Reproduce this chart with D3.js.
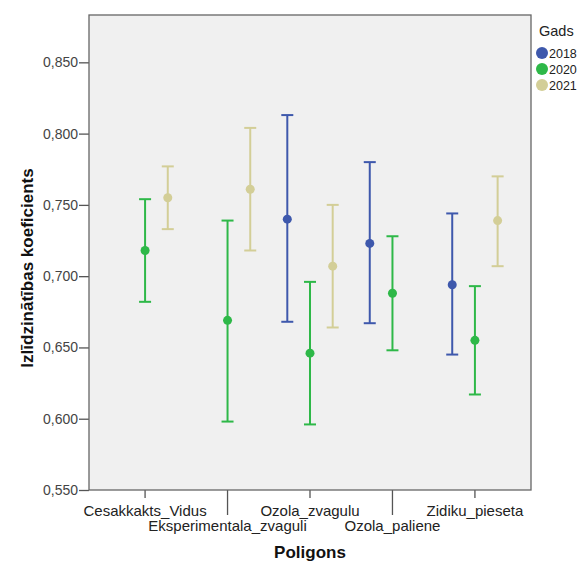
<!DOCTYPE html>
<html><head><meta charset="utf-8">
<script src="https://cdn.jsdelivr.net/npm/d3@7"></script>
<style>body{margin:0;background:#fff}svg{display:block}text{font-family:"Liberation Sans",Arial,sans-serif}</style>
</head><body>
<svg id="c" width="578" height="563"></svg>
<script>
const categories = ["Cesakkakts_Vidus","Eksperimentala_zvaguli","Ozola_zvagulu","Ozola_paliene","Zidiku_pieseta"];
const years = ["2018","2020","2021"];
const colors = ["#3e58ac","#2eb848","#d3ce97"];
// mean, lower, upper per category (null = missing)
const mean2018  = [null, null, 0.740, 0.723, 0.694];
const lower2018 = [null, null, 0.668, 0.667, 0.645];
const upper2018 = [null, null, 0.813, 0.780, 0.744];
const mean2020  = [0.718, 0.669, 0.646, 0.688, 0.655];
const lower2020 = [0.682, 0.598, 0.596, 0.648, 0.617];
const upper2020 = [0.754, 0.739, 0.696, 0.728, 0.693];
const mean2021  = [0.755, 0.761, 0.707, null, 0.739];
const lower2021 = [0.733, 0.718, 0.664, null, 0.707];
const upper2021 = [0.777, 0.804, 0.750, null, 0.770];
const yTicks = [0.55,0.60,0.65,0.70,0.75,0.80,0.85];

const means=[mean2018,mean2020,mean2021], lows=[lower2018,lower2020,lower2021], ups=[upper2018,upper2020,upper2021];
const svg = d3.select("#c");
const L=89,R=531,T=15,B=490;
const x = d3.scaleBand().domain(categories).range([L,R]).paddingInner(0).paddingOuter(0.18);
const y = d3.scaleLinear().domain([0.55,0.8832]).range([B,T]);
const off = d3.scalePoint().domain(years).range([-22.7,22.7]);

svg.append("rect").attr("x",L).attr("y",T).attr("width",R-L).attr("height",B-T).attr("fill","#f0f0f0");

// y axis
const ya = svg.append("g").attr("transform",`translate(${L},0)`)
  .call(d3.axisLeft(y).tickValues(yTicks).tickSize(10).tickPadding(1).tickFormat(d=>d3.format(".3f")(d).replace(".",",")));
ya.select(".domain").remove();
ya.selectAll("line").attr("stroke","#555").attr("stroke-width",1.3);
ya.selectAll("text").attr("font-size",14).attr("fill","#444").attr("font-family","Liberation Sans, Arial, sans-serif");

// x axis
const xa = svg.append("g").attr("transform",`translate(0,${B})`)
  .call(d3.axisBottom(x).tickSize(0).tickPadding(0));
xa.select(".domain").remove();
xa.selectAll(".tick line").attr("stroke","#555").attr("stroke-width",1.3).attr("y2",(d,i)=>i%2?25:8);
xa.selectAll(".tick text").attr("font-size",15).attr("fill","#222").attr("font-family","Liberation Sans, Arial, sans-serif")
  .attr("dy",null).attr("y",(d,i)=>i%2?41:26);

// frame
svg.append("rect").attr("x",L).attr("y",T).attr("width",R-L).attr("height",B-T).attr("fill","none").attr("stroke","#666").attr("stroke-width",1.3);

// error bars
years.forEach((yr,k)=>{
  const g = svg.append("g");
  categories.forEach((c,i)=>{
    if(means[k][i]==null) return;
    const cx = x(c)+x.bandwidth()/2+off(yr);
    const col = colors[k];
    g.append("line").attr("x1",cx).attr("x2",cx).attr("y1",y(lows[k][i])).attr("y2",y(ups[k][i])).attr("stroke",col).attr("stroke-width",2);
    [lows[k][i],ups[k][i]].forEach(v=>g.append("line").attr("x1",cx-6).attr("x2",cx+6).attr("y1",y(v)).attr("y2",y(v)).attr("stroke",col).attr("stroke-width",2));
    g.append("circle").attr("cx",cx).attr("cy",y(means[k][i])).attr("r",4.5).attr("fill",col);
  });
});

// axis titles
svg.append("text").attr("x",(L+R)/2).attr("y",558).attr("text-anchor","middle").attr("font-size",17).attr("font-weight","bold").attr("fill","#111").text("Poligons");
svg.append("text").attr("transform","translate(33,268) rotate(-90)").attr("text-anchor","middle").attr("font-size",17).attr("font-weight","bold").attr("fill","#111").text("Izlīdzinātības koeficients");

// legend
const lg = svg.append("g");
lg.append("text").attr("x",539).attr("y",36).attr("font-size",14.5).attr("fill","#222").text("Gads");
years.forEach((yr,k)=>{
  lg.append("circle").attr("cx",542).attr("cy",53+k*16).attr("r",6).attr("fill",colors[k]);
  lg.append("text").attr("x",549).attr("y",57.5+k*16).attr("font-size",12.5).attr("fill","#222").text(yr);
});
</script>
</body></html>
